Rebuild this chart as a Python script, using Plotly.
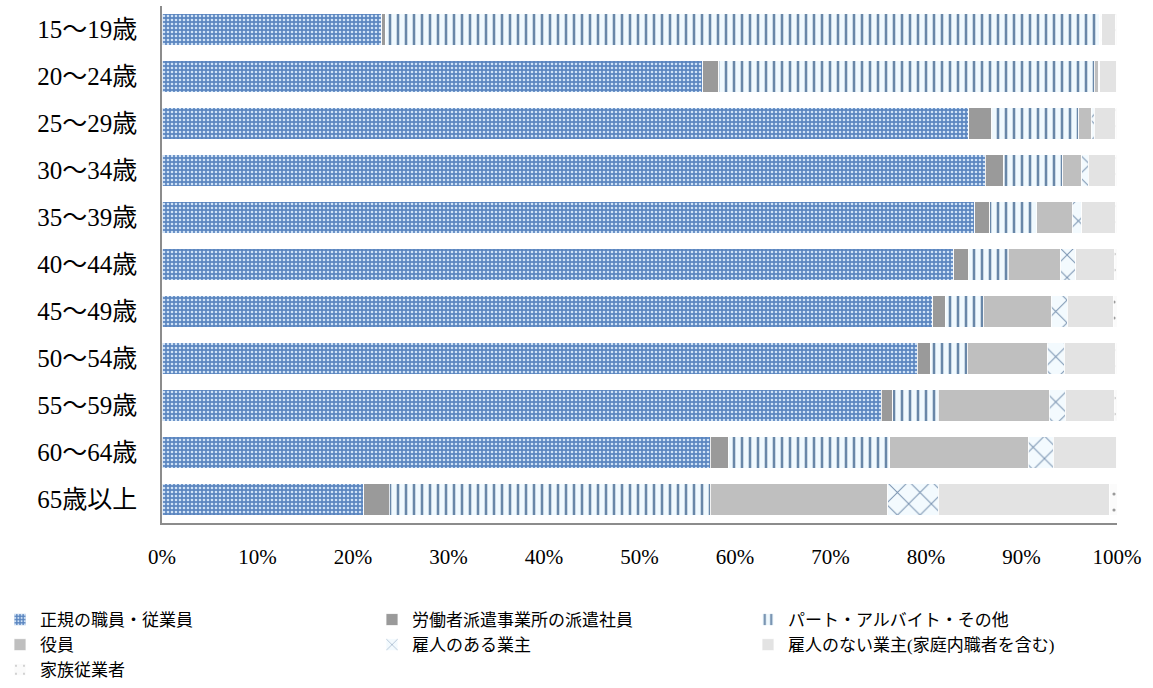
import plotly.graph_objects as go

categories = ["15～19歳", "20～24歳", "25～29歳", "30～34歳", "35～39歳", "40～44歳",
              "45～49歳", "50～54歳", "55～59歳", "60～64歳", "65歳以上"]
series_names = ["正規の職員・従業員", "労働者派遣事業所の派遣社員", "パート・アルバイト・その他",
                "役員", "雇人のある業主", "雇人のない業主(家庭内職者を含む)", "家族従業者"]
regular = [23.0, 56.6, 84.5, 86.2, 85.1, 82.9, 80.7, 79.1, 75.3, 57.4, 21.1]
dispatch = [0.4, 1.7, 2.4, 1.9, 1.6, 1.6, 1.3, 1.4, 1.2, 1.9, 2.7]
part = [74.8, 39.3, 9.1, 6.2, 4.9, 4.1, 4.0, 3.8, 4.8, 16.9, 33.6]
officer = [0.1, 0.5, 1.3, 2.0, 3.7, 5.5, 7.1, 8.4, 11.6, 14.5, 18.6]
employer = [0.1, 0.1, 0.3, 0.7, 1.0, 1.6, 1.7, 1.8, 1.7, 2.6, 5.3]
self_emp = [1.4, 1.7, 2.2, 2.8, 3.5, 4.0, 4.8, 5.3, 5.1, 6.6, 17.9]
family = [0.2, 0.1, 0.2, 0.2, 0.2, 0.3, 0.4, 0.2, 0.3, 0.1, 0.8]
x_ticks = [0, 10, 20, 30, 40, 50, 60, 70, 80, 90, 100]
x_tick_labels = ["0%", "10%", "20%", "30%", "40%", "50%", "60%", "70%", "80%", "90%", "100%"]

values = [regular, dispatch, part, officer, employer, self_emp, family]
# legend column for each series (legend laid out in three columns, row-major like the original)
legend_ids = ["legend", "legend2", "legend3", "legend", "legend2", "legend3", "legend"]
styles = [
    dict(color="#5b86c0", pattern=dict(shape=".", fgcolor="#cfe2f6", bgcolor="#5b86c0", size=4, solidity=0.35)),
    dict(color="#9a9a9a"),
    dict(color="#eef8fd", pattern=dict(shape="|", fgcolor="#6987a8", bgcolor="#f0f9fe", size=8, solidity=0.32)),
    dict(color="#bfbfbf"),
    dict(color="#f0f8fd", pattern=dict(shape="x", fgcolor="#7892b0", bgcolor="#f3fafe", size=16, solidity=0.12)),
    dict(color="#e3e3e3"),
    dict(color="#fafafa", pattern=dict(shape=".", fgcolor="#9a9a9a", bgcolor="#fbfbfb", size=16, solidity=0.03)),
]

fig = go.Figure()
for name, vals, st, lg in zip(series_names, values, styles, legend_ids):
    marker = dict(color=st["color"], line=dict(color="white", width=0.8))
    if "pattern" in st:
        marker["pattern"] = dict(fillmode="replace", **st["pattern"])
    fig.add_trace(go.Bar(y=categories, x=vals, name=name, orientation="h", marker=marker, legend=lg))

font_fam = "Liberation Serif, Noto Sans CJK JP, serif"
leg_common = dict(orientation="v", xref="container", yref="container", y=1 - 602 / 688,
                  xanchor="left", yanchor="top", traceorder="normal",
                  font=dict(size=17, family=font_fam), itemwidth=30, tracegroupgap=0,
                  bgcolor="rgba(0,0,0,0)")
fig.update_layout(
    width=1153, height=688,
    barmode="stack", bargap=0.33,
    margin=dict(l=162, r=36, t=6, b=165, autoexpand=False),
    plot_bgcolor="white", paper_bgcolor="white",
    font=dict(family=font_fam, color="#000000"),
    showlegend=True,
    legend=dict(x=0.0, **leg_common),
    legend2=dict(x=372 / 1153, **leg_common),
    legend3=dict(x=748 / 1153, **leg_common),
    xaxis=dict(range=[0, 100], tickvals=x_ticks, ticktext=x_tick_labels, showgrid=False, zeroline=False,
               showline=True, linecolor="#8c8c8c", linewidth=2, ticks="", automargin=False,
               tickfont=dict(size=21, family=font_fam), ticklabelstandoff=14),
    yaxis=dict(autorange="reversed", showgrid=False, showline=True, linecolor="#8c8c8c", linewidth=1.5,
               ticks="", automargin=False, tickfont=dict(size=25, family=font_fam), ticklabelstandoff=18),
)
fig.write_html("out.html", config={"displayModeBar": False},
               post_script="document.body.style.margin='0px';")
